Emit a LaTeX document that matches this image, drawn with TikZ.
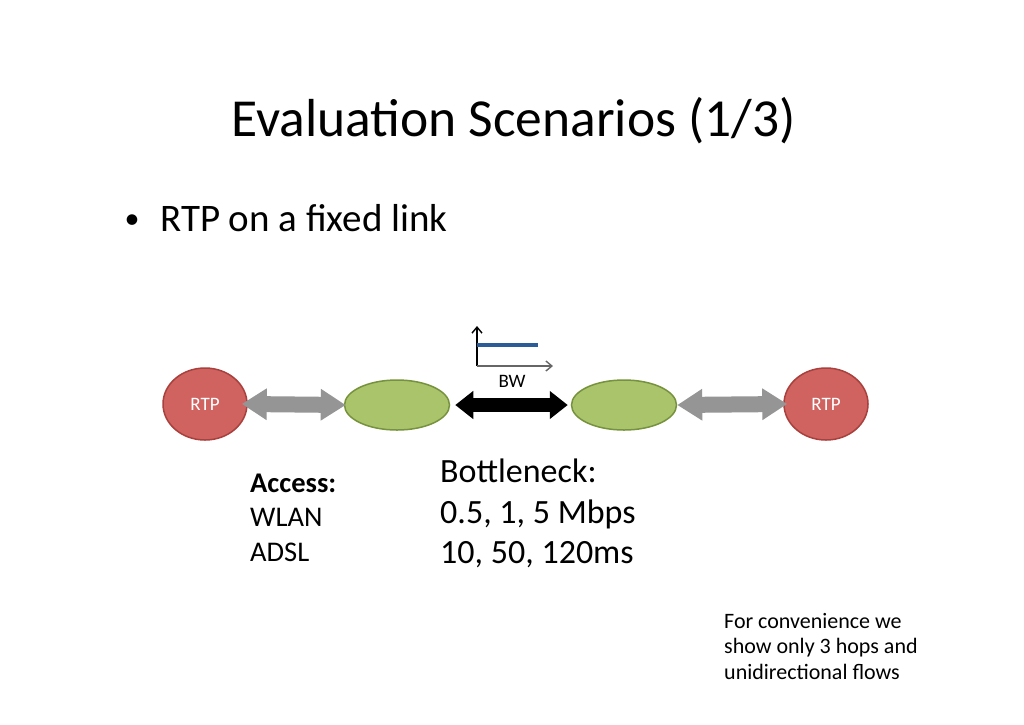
\documentclass[tikz,border=0pt]{standalone}
\usepackage{fontspec}
\setmainfont{Carlito}
\usetikzlibrary{arrows.meta,shapes.geometric}
\definecolor{rtpfill}{HTML}{D0625F}
\definecolor{rtpdraw}{HTML}{A8403D}
\definecolor{grfill}{HTML}{A9C46B}
\definecolor{grdraw}{HTML}{76923C}
\definecolor{grayarr}{HTML}{959595}
\definecolor{bwblue}{HTML}{2A5D98}
\tikzset{
  rtp/.style={ellipse, draw=rtpdraw, fill=rtpfill, line width=1.5, minimum width=84, minimum height=72, inner sep=0, text=white, font=\fontsize{19}{22}\selectfont},
  router/.style={ellipse, draw=grdraw, fill=grfill, line width=1.5, minimum width=105, minimum height=50, inner sep=0},
  accarrow/.style={line width=16, draw=grayarr, {Triangle[width=30, length=25]}-{Triangle[width=30, length=25]}},
  botarrow/.style={line width=14, draw=black, {Triangle[width=27, length=18]}-{Triangle[width=27, length=18]}},
  axis/.style={line width=1.4, -{Straight Barb[length=6, width=10]}},
  txt/.style={anchor=base west, inner sep=0},
  accfont/.style={font=\fontsize{28.5}{34}\selectfont},
  botfont/.style={font=\fontsize{34}{40}\selectfont},
  notefont/.style={font=\fontsize{22}{26}\selectfont}
}
\begin{document}
\begin{tikzpicture}[x=1pt, y=-1pt]
\useasboundingbox (0,0) rectangle (1024,724);
\fill[white] (0,0) rectangle (1024,724);
\node[anchor=base west, inner sep=0, font=\fontsize{53.5}{64}\selectfont] (title) at (231,136) {Evaluation Scenarios (1/3)};
\node[anchor=base, inner sep=0, font=\fontsize{30}{36}\selectfont] (bul) at (132,228) {•};
\node[txt, font=\fontsize{39}{47}\selectfont] (bt) at (160,231) {RTP on a fixed link};
\node[rtp] (r1) at (205,404) {RTP};
\node[router] (n1) at (397,405) {};
\node[router] (n2) at (624,405) {};
\node[rtp] (r2) at (826,404) {RTP};
\draw[accarrow, shorten <=-6, shorten >=-2] (r1.east) -- (n1.west);
\draw[botarrow, shorten <=5, shorten >=3] (n1.east) -- (n2.west);
\draw[accarrow, shorten <=0, shorten >=-4] (n2.east) -- (r2.west);
\coordinate (o) at (477,366);
\coordinate (ytop) at (477,326);
\coordinate (xend) at (553,366);
\coordinate (b1) at (477,345);
\coordinate (b2) at (538,345);
\draw[axis] (o) -- (ytop);
\draw[axis, draw=gray!80!black] (o) -- (xend);
\draw[line width=3.5, bwblue] (b1) -- (b2);
\node[inner sep=0, font=\fontsize{19}{22}\selectfont] (bw) at (512,381) {BW};
\node[txt, accfont] (acc1) at (250,492) {\textbf{Access:}};
\node[txt, accfont] (acc2) at (250,526) {WLAN};
\node[txt, accfont] (acc3) at (250,561) {ADSL};
\node[txt, botfont] (bot1) at (440,482) {Bottleneck:};
\node[txt, botfont] (bot2) at (440,523) {0.5, 1, 5 Mbps};
\node[txt, botfont] (bot3) at (440,563) {10, 50, 120ms};
\node[txt, notefont] (note1) at (724,628) {For convenience we};
\node[txt, notefont] (note2) at (724,653) {show only 3 hops and};
\node[txt, notefont] (note3) at (724,679) {unidirectional flows};
\end{tikzpicture}
\end{document}
